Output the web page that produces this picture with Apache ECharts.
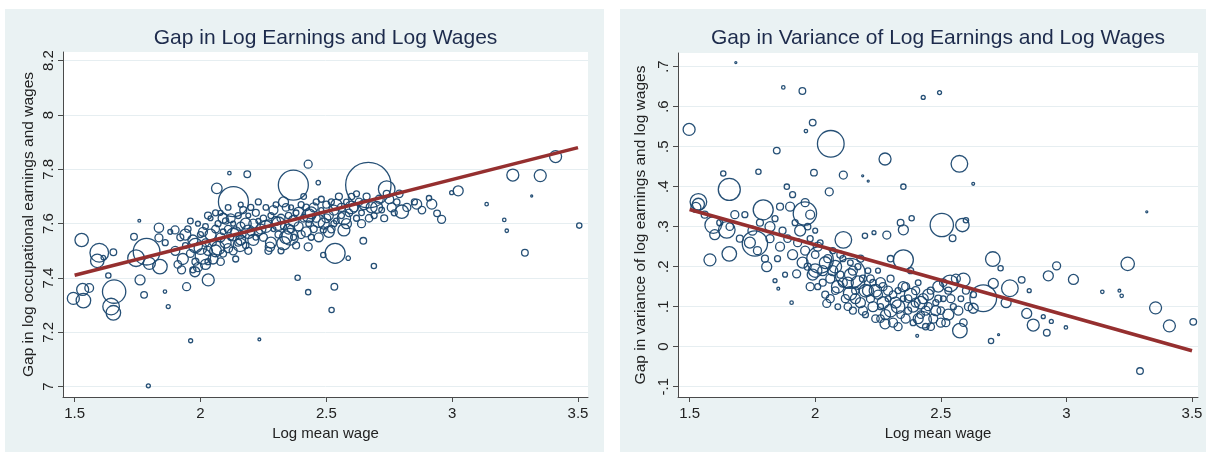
<!DOCTYPE html>
<html><head><meta charset="utf-8">
<script src="https://cdn.jsdelivr.net/npm/echarts@6/dist/echarts.min.js"></script>
<style>
html,body{margin:0;padding:0;background:#fff;}
#wrap{position:relative;width:1206px;height:452px;overflow:hidden;}
.panel{position:absolute;background:#eaf2f3;}
#chart{position:absolute;left:0;top:0;width:1206px;height:452px;}
</style></head><body>
<div id="wrap">
<div class="panel" style="left:5px;top:9px;width:599px;height:443px"></div>
<div class="panel" style="left:620px;top:9px;width:586px;height:443px"></div>
<div id="chart"></div>
</div>
<script>
// ---- DATA ----
const titleLevel = 'Gap in Log Earnings and Log Wages';
const titleVar = 'Gap in Variance of Log Earnings and Log Wages';
const xName = 'Log mean wage';
const yNameLevel = 'Gap in log occupational earnings and wages';
const yNameVar = 'Gap in variance of log earnings and log wages';
const xTicks = [1.5, 2, 2.5, 3, 3.5];
const yTicksLevel = [7, 7.2, 7.4, 7.6, 7.8, 8, 8.2];
const yTicksVar = [-0.1, 0, 0.1, 0.2, 0.3, 0.4, 0.5, 0.6, 0.7];
// fitted lines: [x, y]
const fitLevel = [[1.5, 7.41], [3.5, 7.88]];
const fitVar = [[1.5, 0.343], [3.5, -0.01]];
// occupations: [log mean wage, gap, employment weight]
const levelPts = [
 [1.528,7.54,45],[1.598,7.493,87],[1.59,7.463,45],[1.654,7.495,11],[1.614,7.475,5],
 [1.495,7.325,36],[1.535,7.317,53],[1.532,7.358,36],[1.558,7.363,19],[1.657,7.35,136],
 [1.645,7.295,69],[1.654,7.272,53],[1.634,7.409,7],[1.736,7.552,11],[1.757,7.611,2],
 [1.835,7.585,22],[1.786,7.497,178],[1.744,7.473,69],[1.797,7.454,36],[1.839,7.442,53],
 [1.76,7.393,25],[1.776,7.338,11],[1.859,7.35,3],[1.872,7.295,4],[1.961,7.169,4],
 [2.234,7.174,2],[1.793,7.003,4],[1.945,7.368,16],[2.031,7.393,36],[1.978,7.423,25],
 [1.925,7.43,16],[2.065,7.73,28],[2.131,7.681,225],[2.115,7.786,3],[2.186,7.782,11],
 [2.369,7.742,225],[2.428,7.819,16],[2.468,7.751,5],[2.386,7.401,7],[2.428,7.348,7],
 [1.835,7.548,16],[1.899,7.577,16],
 [2.667,7.742,515],[2.74,7.727,69],[2.535,7.491,100],[2.57,7.577,36],[2.647,7.537,11],
 [2.689,7.444,7],[2.532,7.368,11],[2.521,7.282,7],[2.8,7.644,45],[2.859,7.672,25],
 [2.919,7.672,25],[2.958,7.616,16],[3.024,7.721,25],[2.998,7.714,4],[3.137,7.672,3],
 [3.207,7.614,3],[3.217,7.574,3],[3.241,7.779,36],[3.35,7.777,36],[3.411,7.847,36],
 [3.316,7.702,1],[3.289,7.493,11],[3.505,7.593,7],[2.587,7.473,5],[2.488,7.485,7],
 [2.94,7.638,11],[2.908,7.694,7],[2.488,7.577,9],
 [2.276,7.515,22],[2.33,7.528,45],[2.356,7.552,69],[2.428,7.515,16],[2.157,7.522,45],
 [1.86,7.53,9],[1.88,7.57,6],[1.90,7.50,20],[1.92,7.55,12],[1.93,7.47,30],[1.94,7.52,8],
 [1.95,7.58,10],[1.96,7.49,15],[1.97,7.54,25],[1.98,7.46,12],[1.99,7.60,6],[2.00,7.51,40],
 [2.00,7.56,9],[1.99,7.44,20],[2.02,7.45,25],[1.97,7.43,9],
 [2.01,7.48,60],[2.02,7.53,14],[2.02,7.59,8],[2.03,7.50,20],[2.04,7.56,30],[2.04,7.62,6],
 [2.05,7.47,25],[2.05,7.53,10],[2.06,7.58,15],[2.07,7.51,45],[2.07,7.60,9],[2.08,7.55,20],
 [2.08,7.64,6],[2.09,7.49,12],[2.09,7.57,8],[2.10,7.53,30],[2.10,7.61,10],
 [2.11,7.58,14],[2.12,7.55,9],[2.12,7.62,20],[2.13,7.50,16],[2.13,7.60,6],[2.14,7.57,25],
 [2.15,7.53,12],[2.15,7.63,9],[2.16,7.59,18],[2.17,7.56,8],[2.17,7.65,12],[2.18,7.52,10],
 [2.18,7.60,30],[2.19,7.63,6],[2.20,7.57,14],[2.20,7.66,9],
 [2.21,7.60,20],[2.22,7.55,8],[2.22,7.64,12],[2.23,7.61,6],[2.24,7.58,25],[2.25,7.62,10],
 [2.25,7.55,16],[2.26,7.66,8],[2.27,7.60,14],[2.28,7.53,30],[2.28,7.63,9],[2.29,7.58,6],
 [2.30,7.61,20],[2.30,7.67,8],
 [2.31,7.56,12],[2.32,7.62,16],[2.33,7.59,9],[2.33,7.68,25],[2.34,7.55,40],[2.35,7.63,10],
 [2.36,7.58,14],[2.36,7.66,6],[2.37,7.61,30],[2.38,7.52,12],[2.38,7.64,8],[2.39,7.59,20],
 [2.40,7.67,9],
 [2.41,7.62,14],[2.42,7.57,25],[2.42,7.66,10],[2.43,7.60,8],[2.44,7.64,35],[2.45,7.58,12],
 [2.46,7.68,9],[2.46,7.62,16],[2.47,7.55,20],[2.48,7.65,6],[2.49,7.60,30],[2.50,7.67,12],
 [2.51,7.63,20],[2.52,7.58,14],[2.52,7.68,9],[2.53,7.65,25],[2.54,7.61,8],[2.55,7.70,12],
 [2.56,7.66,16],[2.57,7.62,45],[2.58,7.68,8],[2.59,7.64,14],
 [2.60,7.70,10],[2.61,7.66,20],[2.62,7.62,9],[2.63,7.68,14],[2.64,7.64,8],[2.66,7.70,12],
 [2.68,7.66,30],[2.69,7.63,9],[2.71,7.69,16],[2.72,7.65,8],[2.74,7.71,12],[2.76,7.66,20],
 [2.78,7.68,10],
 [1.91,7.45,14],[1.94,7.56,30],[1.96,7.61,8],[1.98,7.52,50],[2.01,7.57,20],[2.03,7.46,9],
 [2.03,7.63,12],[2.06,7.50,35],[2.06,7.64,9],[2.08,7.46,14],[2.09,7.62,25],[2.11,7.51,20],
 [2.11,7.66,8],[2.13,7.56,40],[2.14,7.47,9],[2.16,7.54,25],[2.16,7.67,6],[2.19,7.57,45],
 [2.19,7.50,12],[2.21,7.54,30],[2.23,7.57,16],[2.23,7.68,9],[2.26,7.59,35],[2.27,7.50,12],
 [2.29,7.65,20],[2.31,7.60,45],[2.32,7.50,9],[2.34,7.66,14],[2.35,7.58,25],[2.37,7.55,9],
 [2.39,7.64,30],[2.40,7.56,16],[2.41,7.70,8],[2.43,7.63,45],[2.44,7.55,9],[2.45,7.66,20],
 [2.47,7.61,40],[2.48,7.69,9],[2.50,7.62,20],[2.51,7.57,30],[2.53,7.60,9],[2.54,7.67,30],
 [2.56,7.63,9],[2.58,7.60,25],[2.60,7.66,40],[2.62,7.71,9],[2.64,7.60,16],[2.65,7.67,25],
 [2.67,7.62,14],[2.70,7.66,35],[2.73,7.62,12],[2.75,7.69,20],[2.77,7.64,9],[2.79,7.71,14],
 [2.82,7.66,16],[2.85,7.68,9],[2.88,7.65,14]
];
const varPts = [
 [1.684,0.71,1],[1.873,0.648,3],[1.949,0.639,11],[1.498,0.543,36],[2.062,0.507,178],
 [1.99,0.56,11],[1.963,0.539,3],[1.847,0.49,11],[2.278,0.469,36],[2.43,0.623,4],
 [2.495,0.635,4],[1.658,0.393,121],[1.535,0.362,69],[1.535,0.356,36],[1.525,0.348,25],
 [1.793,0.342,100],[1.594,0.304,69],[1.648,0.292,69],[1.581,0.217,36],[1.658,0.232,53],
 [1.76,0.258,160],[1.807,0.2,25],[1.959,0.333,136],[2.019,0.217,178],[2.139,0.183,225],
 [2.112,0.267,69],[2.351,0.217,100],[2.43,0.067,69],[1.906,0.11,3],[1.84,0.165,4],
 [1.853,0.145,2],[2.278,0.057,25],[2.406,0.027,2],[2.351,0.4,7],[2.112,0.429,16],
 [1.995,0.435,11],[1.887,0.4,7],[1.774,0.437,7],[1.634,0.433,7],[2.056,0.387,16],
 [2.189,0.427,1],[2.211,0.414,1],[1.926,0.182,16],[2.046,0.108,16],[2.139,0.133,45],
 [2.198,0.277,7],[2.234,0.285,4],[2.285,0.279,16],[2.351,0.292,25],[2.384,0.321,7],
 [2.34,0.31,11],
 [2.574,0.457,69],[2.629,0.407,2],[2.504,0.304,136],[2.586,0.304,45],[2.6,0.316,7],
 [2.547,0.271,11],[2.707,0.219,53],[2.738,0.196,7],[2.775,0.146,69],[2.669,0.121,178],
 [2.576,0.04,53],[2.629,0.096,25],[2.822,0.167,11],[2.852,0.14,4],[2.842,0.083,25],
 [2.868,0.054,36],[2.922,0.035,11],[2.908,0.075,4],[2.94,0.063,4],[2.928,0.177,25],
 [2.961,0.202,16],[3.028,0.168,25],[2.998,0.048,3],[2.7,0.014,7],[2.73,0.03,1],
 [3.143,0.137,3],[3.211,0.14,2],[3.22,0.127,3],[3.244,0.207,45],[3.32,0.337,1],
 [3.355,0.097,36],[3.41,0.052,36],[3.505,0.062,11],[3.293,-0.061,11],[2.709,0.158,25],
 [2.76,0.11,25],[2.59,0.167,45],[2.537,0.158,69],
 [1.96,0.24,20],[1.97,0.20,12],[1.98,0.27,9],[1.99,0.18,30],[2.00,0.23,14],[2.01,0.15,9],
 [2.02,0.26,8],[2.03,0.19,25],[2.04,0.13,12],[2.05,0.22,16],[1.97,0.30,10],[2.00,0.29,6],
 [2.06,0.17,20],[2.07,0.24,9],[2.08,0.14,14],[2.08,0.20,40],[2.09,0.10,8],[2.10,0.18,12],
 [2.11,0.22,9],[2.12,0.12,16],[2.13,0.16,30],[2.14,0.21,8],[2.15,0.09,12],[2.15,0.19,20],
 [2.16,0.14,14],[2.17,0.20,9],[2.18,0.11,25],[2.19,0.17,12],[2.20,0.08,9],[2.20,0.14,40],
 [2.21,0.19,8],[2.22,0.12,16],[2.23,0.16,10],[2.24,0.07,14],[2.25,0.13,20],[2.25,0.19,6],
 [2.26,0.10,9],[2.27,0.15,16],[2.28,0.08,25],[2.29,0.12,8],[2.30,0.17,12],[2.31,0.06,20],
 [2.32,0.11,30],[2.33,0.14,9],[2.34,0.08,14],[2.35,0.12,8],[2.30,0.22,10],
 [2.36,0.15,16],[2.37,0.09,12],[2.38,0.13,40],[2.39,0.06,9],[2.40,0.11,20],[2.41,0.16,8],
 [2.42,0.08,14],[2.43,0.12,25],[2.44,0.05,10],[2.45,0.10,16],[2.38,0.19,9],
 [2.46,0.14,12],[2.47,0.07,20],[2.48,0.11,9],[2.49,0.15,30],[2.50,0.09,14],[2.51,0.12,8],
 [2.52,0.06,16],[2.53,0.14,12],[2.55,0.10,9],[2.56,0.17,20],[2.58,0.12,8],[2.60,0.14,12],
 [1.72,0.33,9],[1.75,0.29,20],[1.78,0.31,12],[1.82,0.27,16],[1.84,0.32,9],[1.87,0.29,12],
 [1.90,0.35,20],[1.92,0.31,9],[1.80,0.22,12],[1.85,0.22,9],[1.88,0.18,6],[1.93,0.26,16],
 [1.56,0.33,12],[1.62,0.31,9],[1.68,0.33,16],[1.70,0.27,12],
 [1.95,0.21,30],[1.98,0.15,16],[2.00,0.19,45],[2.01,0.25,20],[2.03,0.16,12],[2.04,0.21,35],
 [2.06,0.12,16],[2.07,0.19,25],[2.09,0.15,40],[2.10,0.23,12],[2.11,0.16,20],[2.13,0.10,14],
 [2.14,0.18,35],[2.16,0.12,25],[2.17,0.16,45],[2.18,0.22,12],[2.19,0.09,20],[2.21,0.14,30],
 [2.22,0.17,14],[2.23,0.10,25],[2.24,0.14,40],[2.26,0.07,14],[2.26,0.16,25],[2.27,0.11,35],
 [2.29,0.14,20],[2.30,0.09,40],[2.31,0.13,14],[2.33,0.10,45],[2.33,0.05,16],[2.35,0.15,25],
 [2.36,0.07,20],[2.37,0.12,14],[2.39,0.10,30],[2.40,0.14,16],[2.41,0.07,25],[2.42,0.11,40],
 [2.44,0.09,20],[2.45,0.13,30],[2.46,0.05,14],[2.48,0.09,25],[2.49,0.12,12],[2.50,0.06,20],
 [2.51,0.16,14],[2.53,0.08,30],[2.54,0.12,16],[2.57,0.09,20],[2.59,0.06,14],[2.61,0.10,16],
 [2.63,0.13,9],
 [1.60,0.28,25],[1.66,0.30,14],[1.74,0.26,30],[1.77,0.24,16],[1.82,0.30,25],[1.86,0.25,20],
 [1.89,0.27,14],[1.91,0.23,25],[1.94,0.29,30],[1.96,0.36,16],[1.98,0.33,20],[1.86,0.35,12],
 [1.91,0.38,9]
];

// ---- CHART ----
const FONT = '"Liberation Sans", Arial, sans-serif';
const AXIS_COLOR = '#4a4a4a';
const TEXT_COLOR = '#222';
const MARK = '#1a476f';
const FIT = '#952f2f';

function fmtLevel(v){ return String(Math.round(v*10)/10); }
function fmtVar(v){
  const r = Math.round(v*10)/10;
  if (r === 0) return '0';
  return String(r).replace('0.', '.');
}
function xAxisCfg(gi, min, max){
  return {
    type:'value', gridIndex: gi, min, max,
    name: xName, nameLocation:'middle', nameGap: 28,
    nameTextStyle:{fontFamily:FONT, fontSize:15, color:TEXT_COLOR},
    axisLine:{show:true, onZero:false, lineStyle:{color:AXIS_COLOR, width:1}},
    axisTick:{show:true, length:5, customValues: xTicks, lineStyle:{color:AXIS_COLOR}},
    axisLabel:{customValues: xTicks, margin:9, fontFamily:FONT, fontSize:15, color:TEXT_COLOR,
      formatter: v => String(v)},
    splitLine:{show:false}
  };
}
function yAxisCfg(gi, min, max, ticks, fmt, name, gap){
  return {
    type:'value', gridIndex: gi, min, max,
    name, nameLocation:'middle', nameGap: gap,
    nameTextStyle:{fontFamily:FONT, fontSize:15.5, color:TEXT_COLOR},
    axisLine:{show:true, onZero:false, lineStyle:{color:AXIS_COLOR, width:1}},
    axisTick:{show:true, length:5, customValues: ticks, lineStyle:{color:AXIS_COLOR}},
    axisLabel:{customValues: ticks, rotate:90, margin:7, fontFamily:FONT, fontSize:15, color:TEXT_COLOR,
      formatter: fmt},
    splitLine:{show:true, lineStyle:{color:'#e6eef1', width:1}}
  };
}
function scatter(gi, data){
  return {
    type:'scatter', xAxisIndex:gi, yAxisIndex:gi, data,
    symbol:'circle', symbolSize: d => 2*Math.sqrt(d[2]),
    itemStyle:{color:'rgba(0,0,0,0)', borderColor:MARK, borderWidth:1.3, opacity:0.95},
    emphasis:{disabled:true}, z:2
  };
}
function fit(gi, data){
  return {
    type:'line', xAxisIndex:gi, yAxisIndex:gi, data,
    symbol:'none', lineStyle:{color:FIT, width:3.6}, z:5, silent:true
  };
}

const chart = echarts.init(document.getElementById('chart'), null, {renderer:'canvas'});
chart.setOption({
  animation:false,
  backgroundColor:'transparent',
  grid:[
    {left:63, top:52, width:525, height:345, show:true, backgroundColor:'#fff', borderWidth:0},
    {left:678, top:53, width:520, height:344, show:true, backgroundColor:'#fff', borderWidth:0}
  ],
  xAxis:[ xAxisCfg(0, 1.4539, 3.5397), xAxisCfg(1, 1.4538, 3.5239) ],
  yAxis:[
    yAxisCfg(0, 6.962, 8.232, yTicksLevel, fmtLevel, yNameLevel, 26),
    yAxisCfg(1, -0.1258, 0.734, yTicksVar, fmtVar, yNameVar, 29)
  ],
  graphic:[
    {type:'text', x:325.5, y:38, style:{text:titleLevel, font:'21px "Liberation Sans", Arial, sans-serif', fill:'#1d2b4c', align:'center', verticalAlign:'middle'}},
    {type:'text', x:938, y:38, style:{text:titleVar, font:'21px "Liberation Sans", Arial, sans-serif', fill:'#1d2b4c', align:'center', verticalAlign:'middle'}}
  ],
  series:[ scatter(0, levelPts), fit(0, fitLevel), scatter(1, varPts), fit(1, fitVar) ]
});
</script>
</body></html>
